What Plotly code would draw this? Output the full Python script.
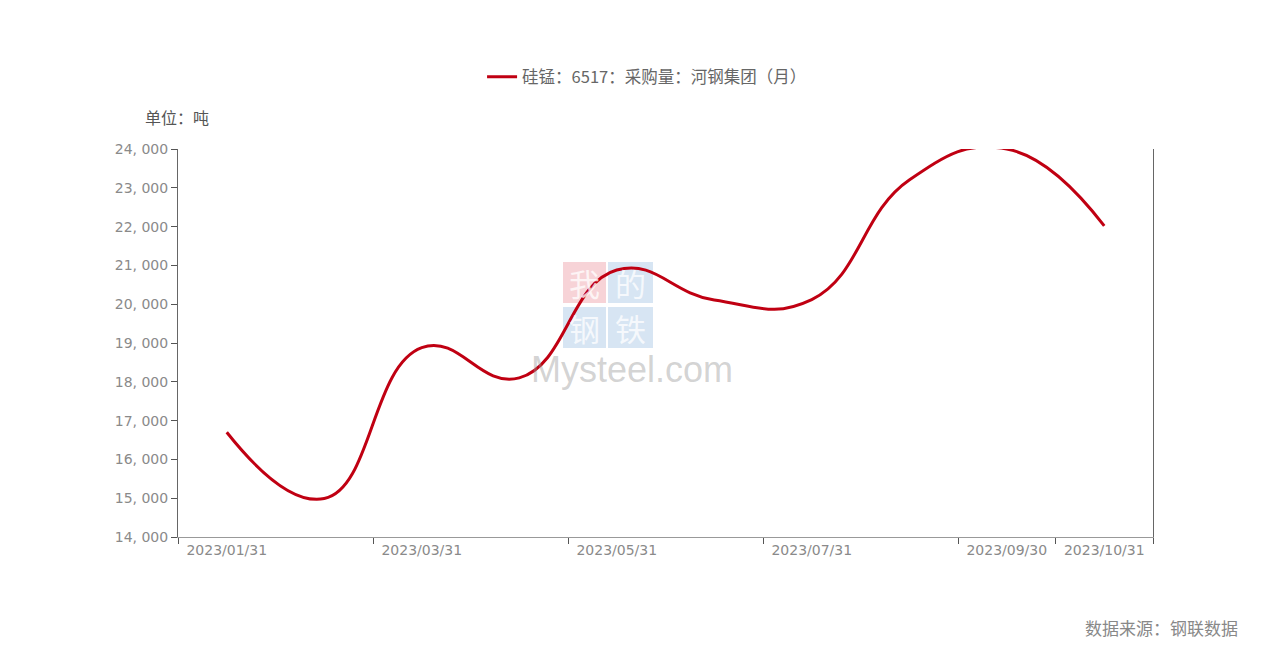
import plotly.graph_objects as go

categories = ["2023/01/31", "2023/02/28", "2023/03/31", "2023/04/30", "2023/05/31",
              "2023/06/30", "2023/07/31", "2023/08/31", "2023/09/30", "2023/10/31"]
values = [16700, 14990, 18880, 18100, 20880, 20110, 20120, 23200, 24000, 22020]
series_name = "硅锰：6517：采购量：河钢集团（月）"
shown_labels = ["2023/01/31", "2023/03/31", "2023/05/31", "2023/07/31", "2023/09/30", "2023/10/31"]
y_ticks = [14000, 15000, 16000, 17000, 18000, 19000, 20000, 21000, 22000, 23000, 24000]
y_tick_text = ["14, 000", "15, 000", "16, 000", "17, 000", "18, 000", "19, 000",
               "20, 000", "21, 000", "22, 000", "23, 000", "24, 000"]

idx = list(range(len(categories)))
label_pos = [categories.index(c) for c in shown_labels]
boundaries = [-0.5, 1.5, 3.5, 5.5, 7.5, 8.5, 9.5]

CJK = "Noto Sans CJK SC"
TICKFONT = "DejaVu Sans"
GRAY = "#8a8a8a"

fig = go.Figure()
fig.add_trace(go.Scatter(
    x=idx, y=values, mode="lines", name=series_name,
    line=dict(color="#c00012", width=3, shape="spline", smoothing=1.3),
    hoverinfo="x+y",
))
fig.add_trace(go.Scatter(x=[boundaries[0], boundaries[-1]], y=[y_ticks[0], y_ticks[0]],
                         xaxis="x2", mode="lines", line=dict(width=0),
                         showlegend=False, hoverinfo="skip"))

# page body has an 8px margin, so the figure is offset by 8px
fig.update_layout(
    width=1258, height=642,
    margin=dict(l=170, r=113, t=141, b=113),
    paper_bgcolor="white", plot_bgcolor="white",
    font=dict(family=CJK, color=GRAY, size=14),
    showlegend=True,
    legend=dict(orientation="h", x=0.4811, xanchor="center", y=1.1856, yanchor="middle",
                font=dict(size=16.5, color="#666666", family=CJK)),
    xaxis=dict(range=[-0.5, 9.5], tickmode="array", tickvals=label_pos,
               ticktext=shown_labels, ticks="", showgrid=False, zeroline=False,
               showline=True, linecolor="#999999", linewidth=1,
               tickfont=dict(size=14, color=GRAY, family=TICKFONT)),
    xaxis2=dict(range=[-0.5, 9.5], overlaying="x", side="bottom", tickmode="array",
                tickvals=boundaries, showticklabels=False, ticks="outside",
                ticklen=6, tickcolor="#555555", tickwidth=1, showgrid=False,
                zeroline=False, showline=False),
    yaxis=dict(range=[14000, 24000], tickmode="array", tickvals=y_ticks,
               ticktext=y_tick_text, ticks="outside", ticklen=6, tickcolor="#555555",
               showgrid=False, zeroline=False, showline=True, linecolor="#666666",
               linewidth=1, mirror=True, tickfont=dict(size=14, color=GRAY, family=TICKFONT)),
)

fig.add_annotation(text="单位：吨", xref="paper", yref="paper", x=-0.036, y=1.0825,
                   xanchor="left", yanchor="middle", showarrow=False,
                   font=dict(size=16, color="#555555", family=CJK))
fig.add_annotation(text="数据来源：钢联数据", xref="paper", yref="paper", x=1.0892, y=-0.232,
                   xanchor="right", yanchor="middle", showarrow=False,
                   font=dict(size=17, color="#888888", family=CJK))

# watermark
def px_x(p):
    return (p - 178) / (1153 - 178)
def px_y(p):
    return (537 - p) / (537 - 149)

boxes = [("我", 563, 262, 606, 303, "rgba(236,150,160,0.42)"),
         ("的", 608, 262, 653, 303, "rgba(160,192,226,0.42)"),
         ("钢", 563, 307, 606, 348, "rgba(160,192,226,0.42)"),
         ("铁", 608, 307, 653, 348, "rgba(160,192,226,0.42)")]
for ch, x0, y0, x1, y1, col in boxes:
    fig.add_shape(type="rect", xref="paper", yref="paper", x0=px_x(x0), x1=px_x(x1),
                  y0=px_y(y1), y1=px_y(y0), fillcolor=col, line=dict(width=0), layer="below")
    fig.add_annotation(text=ch, xref="paper", yref="paper", x=px_x((x0 + x1) / 2),
                       y=px_y((y0 + y1) / 2), showarrow=False, xanchor="center",
                       yanchor="middle",
                       font=dict(size=31, color="rgba(255,255,255,0.75)", family=CJK))
fig.add_annotation(text="Mysteel.com", xref="paper", yref="paper", x=px_x(632), y=px_y(369),
                   showarrow=False, xanchor="center", yanchor="middle",
                   font=dict(size=36, color="rgba(150,150,150,0.42)",
                             family="Liberation Sans, Arial"))

fig.write_html("out.html")
